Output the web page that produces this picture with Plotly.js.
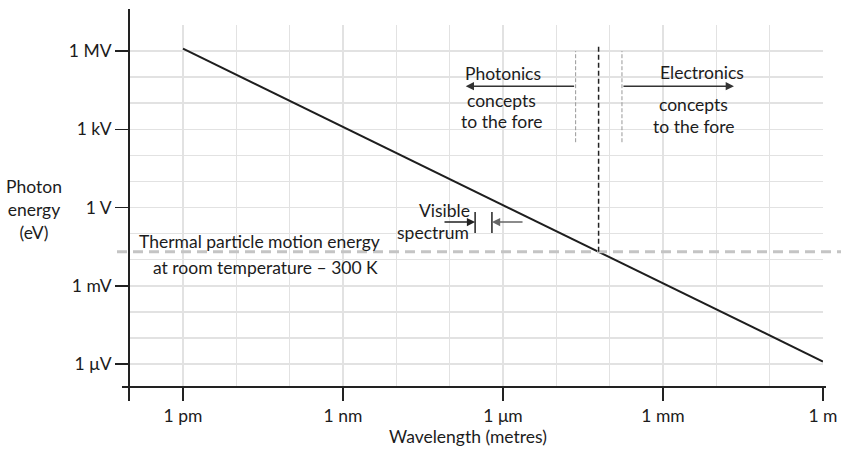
<!DOCTYPE html>
<html>
<head>
<meta charset="utf-8">
<script src="https://cdn.plot.ly/plotly-3.0.1.min.js"></script>
<style>html,body{margin:0;padding:0;background:#fff;}#chart{width:841px;height:452px;}</style>
</head>
<body>
<div id="chart"></div>
<script>
// ---- data ----
const wavelengths = [1e-12, 1e-9, 1e-6, 1e-3, 1];            // metres
const photonEnergy = [1.24e6, 1.24e3, 1.24, 1.24e-3, 1.24e-6]; // eV
const xTickVals = [1e-12, 1e-9, 1e-6, 1e-3, 1];
const xTickText = ['1 pm', '1 nm', '1 μm', '1 mm', '1 m'];
const yTickVals = [1e6, 1e3, 1, 1e-3, 1e-6];
const yTickText = ['1 MV', '1 kV', '1 V', '1 mV', '1 μV'];
const xGridVals = [1e-13,1e-12,1e-11,1e-10,1e-9,1e-8,1e-7,1e-6,1e-5,1e-4,1e-3,1e-2,1e-1,1];
const yGridVals = [1e7,1e6,1e5,1e4,1e3,1e2,1e1,1,1e-1,1e-2,1e-3,1e-4,1e-5,1e-6];
const thermalEnergy = 0.02;          // eV, ~kT at 300 K
const crossoverWavelength = 62e-6;   // m, where photon energy meets thermal energy
const photonicsEdge = 2.3e-5;        // m
const electronicsEdge = 1.7e-4;      // m
const visibleRange = [3.0e-7, 6.2e-7]; // m (as drawn)

const FONT = 'Lato, "Open Sans", sans-serif';
const FS = 17.5;
const TXT = '#1c1c1c';
const L = Math.log10;

const trace = {
  x: wavelengths, y: photonEnergy, type: 'scatter', mode: 'lines',
  line: {color: '#1e1e1e', width: 2}, hoverinfo: 'skip', showlegend: false
};

const shapes = [
  // axis lines (extend slightly past the plot box, like the reference)
  {type:'line', xref:'paper', yref:'paper', x0:0, x1:0, y0:-0.0387, y1:1.0442, line:{color:'#222', width:2}},
  {type:'line', xref:'paper', yref:'paper', x0:-0.0101, x1:1.0043, y0:0, y1:0, line:{color:'#222', width:2}},
  // thermal energy dashed line
  {type:'line', xref:'paper', yref:'y', x0:-0.0173, x1:1.03, y0:thermalEnergy, y1:thermalEnergy,
   line:{color:'#c4c4c4', width:3, dash:'10px,6px'}},
  // crossover dashed vertical
  {type:'line', xref:'x', yref:'y', x0:crossoverWavelength, x1:crossoverWavelength, y0:thermalEnergy, y1:1.7e6,
   line:{color:'#222', width:1.5, dash:'5px,3px'}},
  // photonics / electronics boundaries
  {type:'line', xref:'x', yref:'y', x0:photonicsEdge, x1:photonicsEdge, y0:3.2e2, y1:1e6,
   line:{color:'#999', width:1, dash:'4px,2px'}},
  {type:'line', xref:'x', yref:'y', x0:electronicsEdge, x1:electronicsEdge, y0:3.2e2, y1:1e6,
   line:{color:'#999', width:1, dash:'4px,2px'}},
  // visible spectrum bars
  {type:'line', xref:'x', yref:'y', x0:visibleRange[0], x1:visibleRange[0], y0:0.105, y1:0.67, line:{color:'#222', width:1.5}},
  {type:'line', xref:'x', yref:'y', x0:visibleRange[1], x1:visibleRange[1], y0:0.105, y1:0.67, line:{color:'#222', width:1.5}}
];

function arrow(xTip, yTip, xTail, yTail, color) {
  return {x:L(xTip), y:L(yTip), ax:L(xTail), ay:L(yTail), xref:'x', yref:'y', axref:'x', ayref:'y',
    text:'', showarrow:true, arrowhead:2, arrowsize:1.1, arrowwidth:1.5, arrowcolor:color};
}
function label(text, xl, yl, anchor) {
  return {x:xl, y:yl, xref:'x', yref:'y', text:text, showarrow:false, xanchor:anchor||'center', yanchor:'middle',
    font:{family:FONT, size:FS, color:TXT}};
}

const annotations = [
  arrow(2.0e-7, 4.5e4, photonicsEdge, 4.5e4, '#333'),
  arrow(0.0214, 4.5e4, electronicsEdge, 4.5e4, '#333'),
  arrow(visibleRange[0], 0.278, 7.5e-8, 0.278, '#222'),
  arrow(visibleRange[1], 0.278, 2.48e-6, 0.278, '#666'),
  label('Photonics', -6.0, 5.157),
  label('concepts', -6.02, 4.121),
  label('to the fore', -6.02, 3.316),
  label('Electronics', -2.269, 5.195),
  label('concepts', -2.437, 3.968),
  label('to the fore', -2.437, 3.125),
  label('Thermal particle motion energy', -10.575, -1.284),
  label('at room temperature – 300 K', -10.4625, -2.281),
  label('Visible', -6.581, -0.096, 'right'),
  label('spectrum', -6.60, -0.939, 'right'),
  {x:0.4885, y:-0.138, xref:'paper', yref:'paper', text:'Wavelength (metres)', showarrow:false,
   xanchor:'center', yanchor:'middle', font:{family:FONT, size:FS, color:TXT}},
  {x:-0.137, y:0.4917, xref:'paper', yref:'paper', text:'Photon<br>energy<br>(eV)', showarrow:false,
   xanchor:'center', yanchor:'middle', align:'center', font:{family:FONT, size:FS, color:TXT}}
];

const layout = {
  width: 841, height: 452,
  margin: {l: 129, r: 18, t: 25, b: 65},
  paper_bgcolor: '#fff', plot_bgcolor: '#fff',
  showlegend: false,
  xaxis: {
    type: 'log', range: [-13.0125, 0], showline: false, zeroline: false,
    tickmode: 'array', tickvals: xTickVals, ticktext: xTickText,
    ticks: 'outside', ticklen: 13, tickwidth: 1.5, tickcolor: '#222',
    showgrid: true, gridcolor: '#e2e2e2', gridwidth: 1.5,
    minor: {tickmode: 'array', tickvals: xGridVals, showgrid: true, gridcolor: '#e2e2e2', gridwidth: 1.5, ticks: ''},
    tickfont: {family: FONT, size: FS, color: TXT}, fixedrange: true
  },
  yaxis: {
    type: 'log', range: [-6.882, 7], showline: false, zeroline: false,
    tickmode: 'array', tickvals: yTickVals, ticktext: yTickText,
    ticks: 'outside', ticklen: 13, tickwidth: 1.5, tickcolor: '#222',
    showgrid: true, gridcolor: '#e2e2e2', gridwidth: 1.5,
    minor: {tickmode: 'array', tickvals: yGridVals, showgrid: true, gridcolor: '#e2e2e2', gridwidth: 1.5, ticks: ''},
    tickfont: {family: FONT, size: FS, color: TXT}, fixedrange: true
  },
  shapes: shapes,
  annotations: annotations
};

Plotly.newPlot('chart', [trace], layout, {displayModeBar: false, staticPlot: true});
</script>
</body>
</html>
